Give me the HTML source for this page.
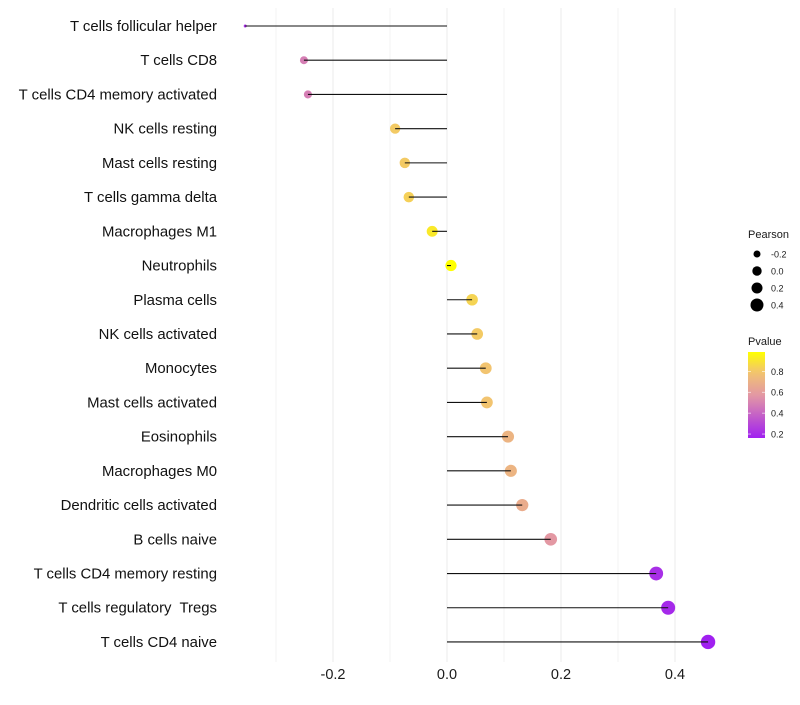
<!DOCTYPE html>
<html><head><meta charset="utf-8"><style>
body{margin:0;background:#fff;}
svg text{font-family:"Liberation Sans",sans-serif;white-space:pre;}
</style></head><body>
<svg id="chart" width="800" height="700"></svg>
<script>
const categories=["T cells follicular helper","T cells CD8","T cells CD4 memory activated","NK cells resting","Mast cells resting","T cells gamma delta","Macrophages M1","Neutrophils","Plasma cells","NK cells activated","Monocytes","Mast cells activated","Eosinophils","Macrophages M0","Dendritic cells activated","B cells naive","T cells CD4 memory resting","T cells regulatory  Tregs","T cells CD4 naive"];
const pearson=[-0.354,-0.251,-0.244,-0.091,-0.074,-0.067,-0.026,0.007,0.044,0.053,0.068,0.070,0.107,0.112,0.132,0.182,0.367,0.388,0.458];
const pvalues=[0.2,0.47,0.47,0.8,0.8,0.82,0.9,0.97,0.83,0.8,0.78,0.78,0.7,0.7,0.66,0.56,0.2,0.18,0.15];
const xTicks=[-0.2,0.0,0.2,0.4];
const xTickLabels=["-0.2","0.0","0.2","0.4"];
const sizeLegend=[-0.2,0.0,0.2,0.4];
const colorLegend=[0.8,0.6,0.4,0.2];

const NS="http://www.w3.org/2000/svg";
const svg=document.getElementById('chart');
function mk(t,a,p){const e=document.createElementNS(NS,t);for(const k in a)e.setAttribute(k,a[k]);(p||svg).appendChild(e);return e;}
const x=v=>447+v*570;
const y=i=>26+i*34.22;
const vmin=Math.min(...pearson),vmax=Math.max(...pearson);
const r=v=>1.5+5.7*Math.pow(Math.max(0,Math.min(1,(v-vmin)/(vmax-vmin))),0.4);
function lerp(a,b,t){return a.map((c,i)=>Math.round(c+(b[i]-c)*t));}
const stops=[[0.15,[160,32,240]],[0.55,[226,150,165]],[0.78,[242,196,112]],[0.97,[255,255,0]]];
function col(p){p=Math.max(0.15,Math.min(0.97,p));for(let i=0;i<stops.length-1;i++){if(p<=stops[i+1][0]){const t=(p-stops[i][0])/(stops[i+1][0]-stops[i][0]);const c=lerp(stops[i][1],stops[i+1][1],t);return `rgb(${c})`;}}return 'rgb(255,255,0)';}

for(let g=-0.3;g<=0.41;g+=0.1){
  const gl=mk('line',{x1:x(g),x2:x(g),y1:8,y2:662,stroke:'#ebebeb','stroke-width':Math.abs(Math.round(g*10))%2===0?1:0.6});
  
  
}
xTicks.forEach((t,i)=>{
  const tx=mk('text',{x:x(t),y:679,'text-anchor':'middle','font-size':14.5,fill:'#1a1a1a'});
  tx.textContent=xTickLabels[i];
  
  
});
categories.forEach((c,i)=>{
  const lb=mk('text',{x:217,y:y(i)+5,'text-anchor':'end','font-size':14.9,fill:'#111'});
  lb.textContent=c;
  
  
  const dot=mk('circle',{cx:x(pearson[i]),cy:y(i),r:r(pearson[i]),fill:col(pvalues[i])});
  
  
  const ln=mk('line',{x1:x(0),x2:x(pearson[i]),y1:y(i),y2:y(i),stroke:'#111','stroke-width':1.1});
  
  
});
const st=mk('text',{x:748,y:238,'font-size':11,fill:'#1a1a1a'});st.textContent='Pearson';


const legR=[3.5,4.7,5.5,6.5];
sizeLegend.forEach((v,i)=>{
  const cy=254+i*17;
  const c=mk('circle',{cx:757,cy:cy,r:legR[i],fill:'#000'});
  
  
  const t=mk('text',{x:771,y:cy+3.5,'font-size':9,fill:'#1a1a1a'});t.textContent=v.toFixed(1);
  
  
});
const ct=mk('text',{x:748,y:345,'font-size':11,fill:'#1a1a1a'});ct.textContent='Pvalue';


const defs=mk('defs',{});
const lg=mk('linearGradient',{id:'pg',x1:0,y1:1,x2:0,y2:0},defs);
for(let k=0;k<=10;k++){const p=0.15+k*0.082;mk('stop',{offset:k/10,'stop-color':col(p)},lg);}
const bar=mk('rect',{x:748,y:352,width:17,height:86,fill:'url(#pg)'});


const py=p=>352+(0.985-p)*104.5;
colorLegend.forEach(p=>{
  mk('line',{x1:748,x2:751,y1:py(p),y2:py(p),stroke:'#fff','stroke-width':0.6});
  mk('line',{x1:762,x2:765,y1:py(p),y2:py(p),stroke:'#fff','stroke-width':0.6});
  const t=mk('text',{x:771,y:py(p)+3.5,'font-size':9,fill:'#1a1a1a'});t.textContent=p.toFixed(1);
  
  
});
</script>
</body></html>
